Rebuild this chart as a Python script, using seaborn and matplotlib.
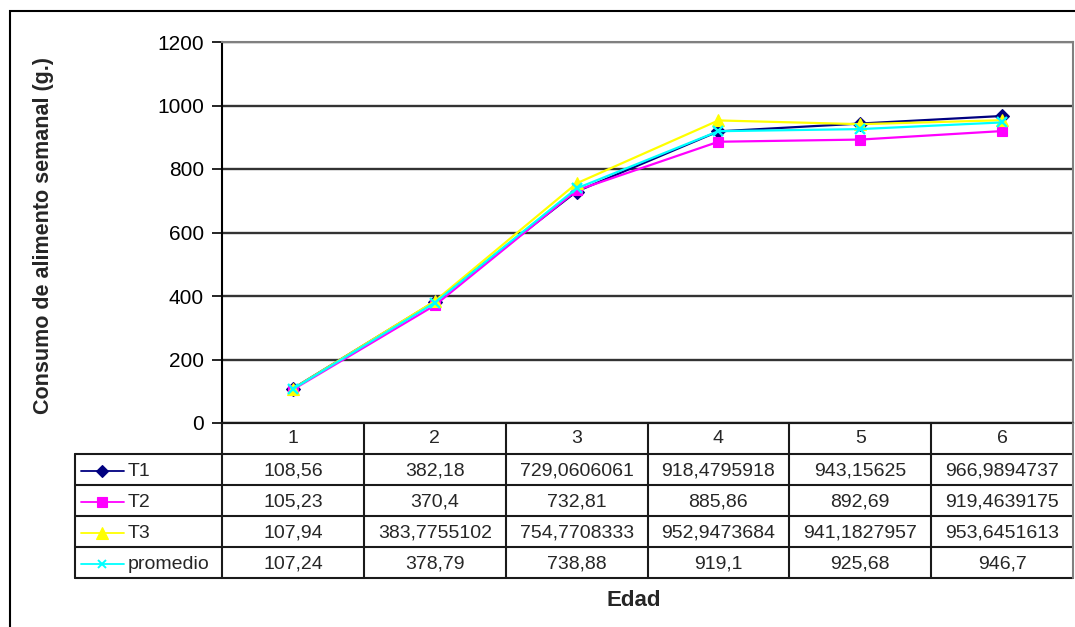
import matplotlib
matplotlib.use("Agg")
import matplotlib.pyplot as plt
from matplotlib.patches import Rectangle
from matplotlib.lines import Line2D
import seaborn as sns
import pandas as pd

# Weekly feed consumption per treatment, by age (weeks)
edad = [1, 2, 3, 4, 5, 6]
t1 = [108.56, 382.18, 729.0606061, 918.4795918, 943.15625, 966.9894737]
t2 = [105.23, 370.4, 732.81, 885.86, 892.69, 919.4639175]
t3 = [107.94, 383.7755102, 754.7708333, 952.9473684, 941.1827957, 953.6451613]
promedio = [107.24, 378.79, 738.88, 919.1, 925.68, 946.7]

series_names = ["T1", "T2", "T3", "promedio"]
series_values = [t1, t2, t3, promedio]
y_ticks = [0, 200, 400, 600, 800, 1000, 1200]

colors = {"T1": "#000080", "T2": "#FF00FF", "T3": "#FFFF00", "promedio": "#00FFFF"}
markers = {"T1": "D", "T2": "s", "T3": "^", "promedio": "x"}
msizes = {"T1": 7, "T2": 7.5, "T3": 8.5, "promedio": 6.5}

sns.set_theme(style="white")
plt.rcParams["font.family"] = ["Liberation Sans", "DejaVu Sans"]

W, H = 1075, 627
fig = plt.figure(figsize=(W / 100, H / 100), dpi=100)
fig.patch.set_facecolor("white")


def fx(px):
    return px / W


def fy(py):
    return 1 - py / H


# plot area in pixels
L, R, T, B = 222, 1073, 42, 423
ax = fig.add_axes([fx(L), fy(B), fx(R) - fx(L), fy(T) - fy(B)])

df = pd.DataFrame({"Edad": edad * len(series_names),
                   "Consumo": sum(series_values, []),
                   "Serie": sum([[n] * len(edad) for n in series_names], [])})

for name in series_names:
    sub = df[df["Serie"] == name]
    sns.lineplot(data=sub, x="Edad", y="Consumo", ax=ax, color=colors[name],
                 marker=markers[name], markersize=msizes[name],
                 markeredgecolor=colors[name],
                 markeredgewidth=1.7 if name == "promedio" else 0.8,
                 linewidth=1.6, legend=False)

ax.set_xlim(0.5, 6.5)
ax.set_ylim(0, 1200)
ax.set_yticks(y_ticks)
ax.set_yticklabels([str(v) for v in y_ticks], fontsize=15)
ax.set_xticks([])
ax.set_xlabel("")
ax.set_ylabel("")
ax.yaxis.grid(True, color="#333333", linewidth=1.7)
ax.set_axisbelow(True)
ax.tick_params(axis="y", direction="out", length=7, width=1.2, color="black",
               pad=6, left=True, labelcolor="black")
for side in ["left", "bottom"]:
    ax.spines[side].set_color("black")
    ax.spines[side].set_linewidth(1.5)
for side in ["top", "right"]:
    ax.spines[side].set_color("#808080")
    ax.spines[side].set_linewidth(1.5)

# data table under the plot, sharing the category positions
TB = 578
unit_px = (R - L) / 6.0
left_edge = 0.5 - (L - 75) / unit_px
tax = fig.add_axes([fx(75), fy(TB), fx(R) - fx(75), fy(B) - fy(TB)])
tax.set_xlim(left_edge, 6.5)
tax.set_ylim(4, -1)
tax.axis("off")
lc = "#1a1a1a"
lw = 1.5
tax.plot([0.5, 6.5], [-1, -1], color=lc, lw=lw, clip_on=False)
for yy in range(0, 5):
    tax.plot([left_edge, 6.5], [yy, yy], color=lc, lw=lw, clip_on=False)
tax.plot([left_edge, left_edge], [0, 4], color=lc, lw=lw, clip_on=False)
for xx in [0.5, 1.5, 2.5, 3.5, 4.5, 5.5]:
    tax.plot([xx, xx], [-1, 4], color=lc, lw=lw, clip_on=False)
tax.plot([6.5, 6.5], [-1, 4], color="#808080", lw=lw, clip_on=False)

for e in edad:
    tax.text(e, -0.5, str(e), ha="center", va="center", fontsize=14)


def to_tx(px):
    return 0.5 + (px - L) / unit_px


for i, (name, vals) in enumerate(zip(series_names, series_values)):
    yc = i + 0.55
    tax.add_line(Line2D([to_tx(81), to_tx(124)], [yc, yc], color=colors[name], lw=1.3))
    tax.add_line(Line2D([to_tx(102)], [yc], color=colors[name], marker=markers[name],
                        markersize=msizes[name] - 0.5,
                        markeredgewidth=1.4 if name == "promedio" else 0.8,
                        markeredgecolor=colors[name]))
    tax.text(to_tx(128), yc, name, ha="left", va="center", fontsize=14)
    for e, v in zip(edad, vals):
        tax.text(e, yc, repr(v).replace(".", ","), ha="center", va="center", fontsize=14)

fig.text(fx(44), fy(236), "Consumo de alimento semanal (g.)", rotation=90,
         ha="center", va="center", fontsize=15.5, fontweight="bold")
fig.text(fx(634), fy(600), "Edad", ha="center", va="center", fontsize=16,
         fontweight="bold")

# chart frame
fig.patches.append(Rectangle((fx(9.5), fy(640)), fx(1100), fy(10.5) - fy(640),
                             transform=fig.transFigure, fill=False,
                             edgecolor="black", linewidth=1.5))

fig.savefig("out.png", dpi=100, facecolor="white")
